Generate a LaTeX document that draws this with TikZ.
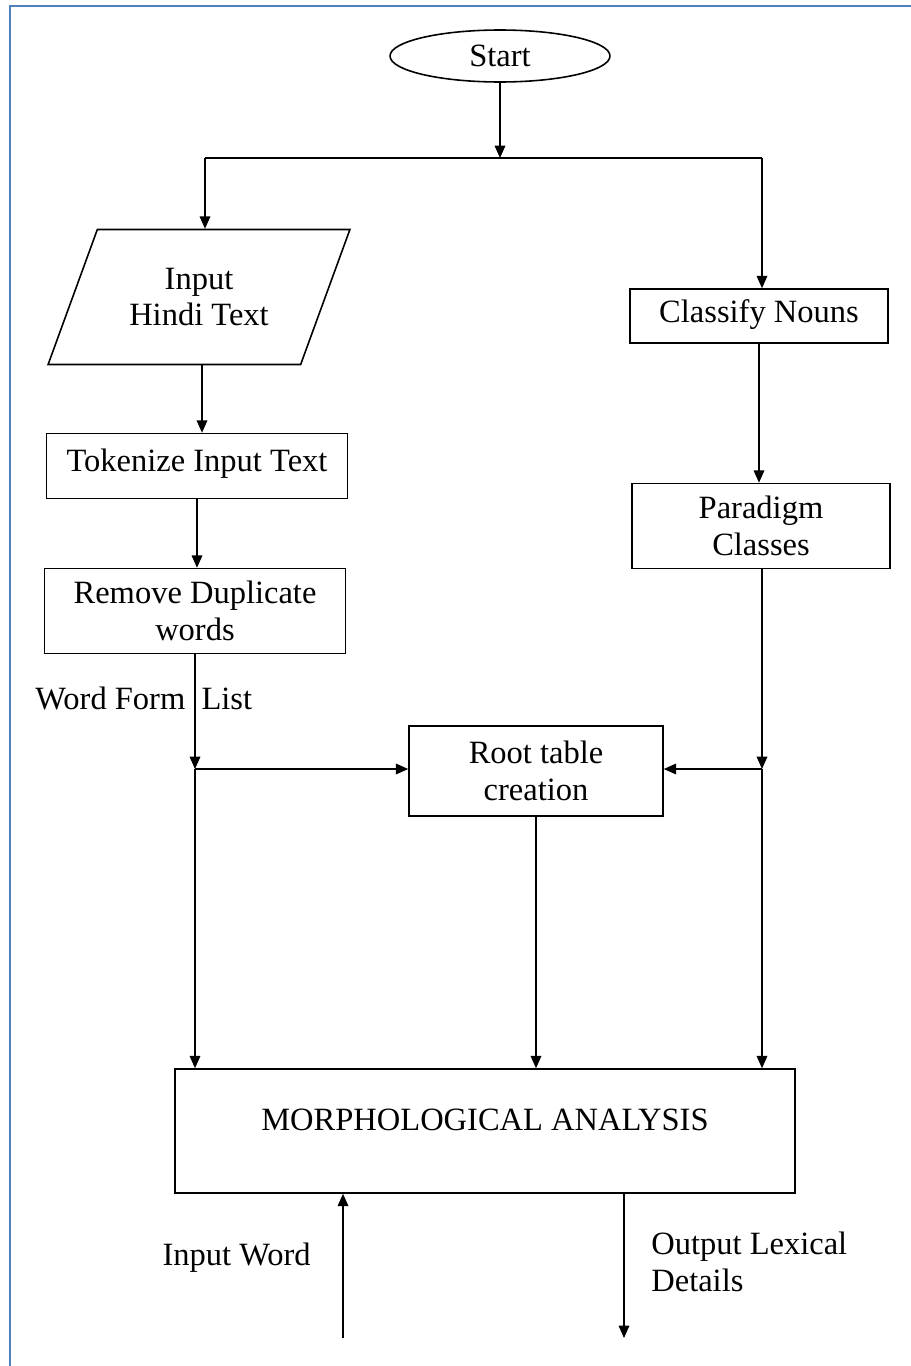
\documentclass[tikz,border=0pt]{standalone}
\usepackage{fontspec}
\setmainfont{Liberation Serif}
\usetikzlibrary{arrows.meta, shapes.geometric, positioning}

\definecolor{frameblue}{RGB}{79,129,189}
\tikzset{
  txt/.style={font=\fontsize{18.5}{21}\selectfont, align=center, inner sep=0pt},
  box/.style={txt, draw, line width=0.9pt, rectangle},
  arr/.style={-{Triangle[length=7pt,width=6pt]}, line width=0.9pt},
  link/.style={line width=0.9pt}
}

\begin{document}
\begin{tikzpicture}[x=0.02cm, y=-0.02cm]
\useasboundingbox (0,0) rectangle (911,1366);
% Page frame
\draw[frameblue, line width=1.2pt] (10,1366) -- (10,6) -- (911,6);

% Start and the two branches
\node[txt, draw, line width=0.9pt, ellipse, minimum width=4.4cm, minimum height=1.04cm] (start) at (500,56) {Start};
\coordinate (split) at (502,158);
\coordinate (splitL) at (205,158);
\coordinate (splitR) at (762,158);

% Left column
\node[txt, draw, line width=0.9pt, trapezium, trapezium left angle=60, trapezium right angle=120,
      trapezium stretches=true, minimum width=6.04cm, minimum height=2.7cm] (hindi) at (199,297) {Input\\Hindi Text};
\node[box, minimum width=6.02cm, minimum height=1.3cm, text depth=0.25cm] (tokenize) at (197,466) {Tokenize Input Text};
\node[box, minimum width=6.02cm, minimum height=1.7cm] (remove) at (195,611) {Remove Duplicate\\words};
\node[txt, anchor=west] (wordlist) at (35,698) {Word Form\hspace{0.5em}List};

% Right column
\node[box, minimum width=5.16cm, minimum height=1.08cm, text depth=0.2cm] (classify) at (759,316) {Classify Nouns};
\node[box, minimum width=5.16cm, minimum height=1.7cm] (paradigm) at (761,526) {Paradigm\\Classes};

% Middle and bottom
\node[box, minimum width=5.08cm, minimum height=1.8cm] (root) at (536,771) {Root table\\creation};
\node[box, minimum width=12.4cm, minimum height=2.48cm, text depth=0.45cm] (morph) at (485,1131) {MORPHOLOGICAL ANALYSIS};
\coordinate (wl) at (195,769);
\coordinate (pr) at (762,769);
\coordinate (inw) at (343,1338);
\coordinate (outl) at (624,1338);
\node[txt, anchor=east] (inword) at (311,1258) {Input Word};
\node[txt, anchor=west, align=left] (outlex) at (651,1262) {Output Lexical\\Details};

% Connectors
\draw[arr] (start.south) -- (start.south |- split);
\draw[link] (splitL) -- (splitR);
\draw[arr] (splitL) -- (splitL |- hindi.north);
\draw[arr] (splitR) -- (splitR |- classify.north);
\draw[arr] (hindi.south -| 202,0) -- (tokenize.north -| 202,0);
\draw[arr] (tokenize.south) -- (tokenize.south |- remove.north);
\draw[arr] (remove.south) -- (wl);
\draw[arr] (wl) -- (root.west |- wl);
\draw[arr] (wl) -- (wl |- morph.north);
\draw[arr] (classify.south) -- (paradigm.north -| classify.south);
\draw[arr] (pr |- paradigm.south) -- (pr);
\draw[arr] (pr) -- (root.east |- pr);
\draw[arr] (pr) -- (pr |- morph.north);
\draw[arr] (root.south) -- (root.south |- morph.north);
\draw[arr] (inw) -- (inw |- morph.south);
\draw[arr] (outl |- morph.south) -- (outl);
\end{tikzpicture}
\end{document}
